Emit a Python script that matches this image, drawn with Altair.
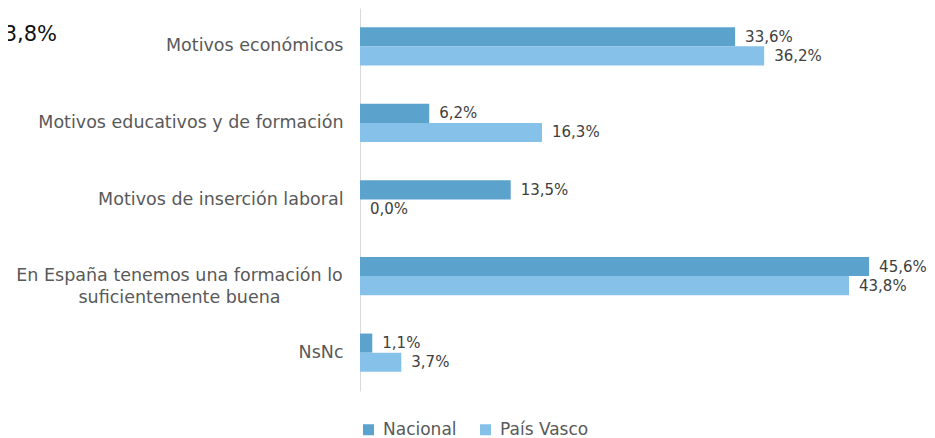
import altair as alt
import pandas as pd

categories = [
    "Motivos económicos",
    "Motivos educativos y de formación",
    "Motivos de inserción laboral",
    "En España tenemos una formación lo\nsuficientemente buena",
    "NsNc",
]
series = ["Nacional", "País Vasco"]
nacional = [33.6, 6.2, 13.5, 45.6, 1.1]
pais_vasco = [36.2, 16.3, 0.0, 43.8, 3.7]
colors = ["#5BA3CD", "#86C1E9"]
stray_text = ["43,8%"]

rows = []
for cat, n, p in zip(categories, nacional, pais_vasco):
    for s, v in zip(series, [n, p]):
        rows.append({"Categoria": cat, "Serie": s, "Valor": v,
                     "Etiqueta": f"{v:.1f}%".replace(".", ",")})
df = pd.DataFrame(rows)

FONT = "DejaVu Sans"

y_axis = alt.Axis(
    title=None,
    domain=True,
    domainColor="#d9d9d9",
    domainWidth=1,
    ticks=False,
    labelFont=FONT,
    labelFontSize=17.5,
    labelColor="#595959",
    labelLimit=0,
    labelLineHeight=22,
    labelExpr="split(datum.label, '\\n')",
    labelAlign={"condition": {"test": "indexof(datum.value, 'España') >= 0", "value": "center"}, "value": "right"},
    labelPadding={"condition": {"test": "indexof(datum.value, 'España') >= 0", "value": 181}, "value": 17},
)

base = alt.Chart(df).encode(
    y=alt.Y("Categoria:N", sort=categories,
            scale=alt.Scale(paddingInner=0.5, paddingOuter=0.25), axis=y_axis),
    yOffset=alt.YOffset("Serie:N", sort=series, scale=alt.Scale(paddingInner=0, paddingOuter=0)),
)

bars = base.mark_bar().encode(
    x=alt.X("Valor:Q", scale=alt.Scale(domain=[0, 48.1], nice=False), axis=None),
    color=alt.Color("Serie:N", sort=series,
                    scale=alt.Scale(domain=series, range=colors),
                    legend=alt.Legend(
                        title=None, orient="none", legendX=0, legendY=413,
                        direction="horizontal", symbolType="square",
                        symbolSize=121, symbolStrokeWidth=0,
                        labelFont=FONT, labelFontSize=17, labelColor="#595959",
                        columnPadding=20, labelOffset=6)),
)

labels = base.mark_text(align="left", baseline="middle", dx=10,
                        font=FONT, fontSize=15, color="#404040").encode(
    x=alt.X("Valor:Q"),
    text="Etiqueta:N",
)

stray = alt.Chart(pd.DataFrame({"t": stray_text})).mark_text(
    align="right", baseline="middle", font=FONT, fontSize=21, color="#111111"
).encode(x=alt.value(-303), y=alt.value(27), text="t:N")

chart = alt.layer(bars, labels, stray).properties(
    width=537, height=383,
    autosize=alt.AutoSizeParams(type="none"),
    padding={"left": 352, "top": 0, "right": 30, "bottom": 47},
).configure_view(stroke=None)

chart.save("out.html", embed_options={"renderer": "svg", "actions": False})
